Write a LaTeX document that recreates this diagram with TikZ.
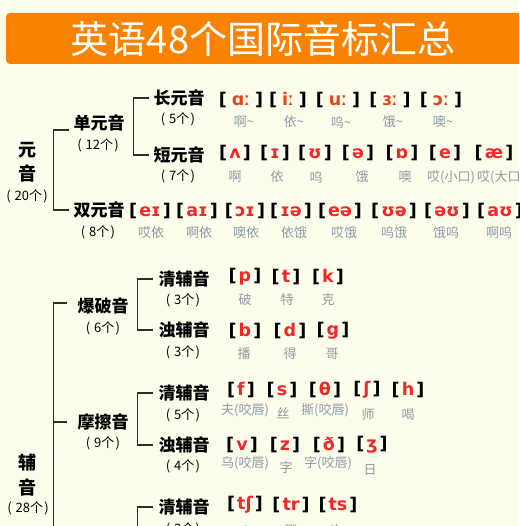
\documentclass[tikz,border=0pt]{standalone}
\usepackage{fontspec}
\usepackage{xcolor}
\usepackage{tikz}
\usetikzlibrary{positioning}
\setmainfont{Noto Sans CJK SC}
\newfontfamily\ipa{DejaVu Sans}
\definecolor{fondo}{HTML}{FDFDEC}
\definecolor{naranja}{HTML}{F98300}
\definecolor{rojo}{HTML}{F0282A}
\definecolor{rojizo}{HTML}{E4461C}
\definecolor{gris}{HTML}{8C9CA6}
\definecolor{linea}{HTML}{2E2E2E}
\newcommand{\fon}[2][rojo]{{\ipa\bfseries[\hspace{0.12em}\textcolor{#1}{#2}\hspace{0.12em}]}}
\newcommand{\cuenta}[1]{(\hspace{0.3em}#1个\hspace{0.1em})}

\begin{document}
\begin{tikzpicture}[x=1pt, y=-1pt,
      cat/.style={font=\fontsize{17}{20}\selectfont\bfseries, inner sep=1pt},
      num/.style={font=\fontsize{13}{15}\selectfont, inner sep=1pt},
      fon/.style={font=\fontsize{17.5}{19}\selectfont, inner sep=1pt},
      lab/.style={text=gris, font=\fontsize{13}{15}\selectfont, inner sep=1pt},
      rama/.style={draw=linea, line width=1.6pt}]
    \path[use as bounding box, fill=fondo] (0,0) rectangle (519,526);
    \clip (0,0) rectangle (519,526);
    \fill[naranja, rounded corners=4pt] (6,13) rectangle (540,64);
    \node[text=white, font=\fontsize{38}{42}\selectfont] (titulo) at (263,39) {英语48个国际音标汇总};
    \coordinate (fin1) at (53.5,560);
    \coordinate (fin2) at (137.5,560);
    % vocales
    \node[cat, font=\fontsize{18}{24}\selectfont\bfseries, align=center] (yuan) at (27,162) {元\\音};
    \node[num] (yuann) at (27,196) {\cuenta{20}};
    \node[cat] (dan) at (99,123) {单元音};
    \node[num] (dann) at (98,145) {\cuenta{12}};
    \node[cat] (chang) at (179,98) {长元音};
    \node[num] (changn) at (178,119) {\cuenta{5}};
    \node[cat] (duan) at (179,155) {短元音};
    \node[num] (duann) at (178,176) {\cuenta{7}};
    \node[cat] (shuang) at (99,210) {双元音};
    \node[num] (shuangn) at (98,232) {\cuenta{8}};
    \draw[rama] ([shift={(-3,7)}]dan.west) -- ++(-16,0) |- ([xshift=-3]shuang.west);
    \draw[rama] ([xshift=-3]chang.west) -- ++(-16,0) |- ([xshift=-3]duan.west);
    \node[fon] (c1) at (241,100) {\fon[rojizo]{\,ɑː\,}};
    \node[fon] (c2) at (288,100) {\fon[rojizo]{\,iː\,}};
    \node[fon] (c3) at (338,100) {\fon[rojizo]{\,uː\,}};
    \node[fon] (c4) at (390,100) {\fon[rojizo]{\,ɜː\,}};
    \node[fon] (c5) at (441,100) {\fon[rojizo]{\,ɔː\,}};
    \node[lab] (c1l) at (244,122) {啊\textasciitilde};
    \node[lab] (c2l) at (294,122) {依\textasciitilde};
    \node[lab] (c3l) at (341,122) {呜\textasciitilde};
    \node[lab] (c4l) at (393,122) {饿\textasciitilde};
    \node[lab] (c5l) at (443,122) {噢\textasciitilde};
    \node[fon] (d1) at (235,153) {\fon{ʌ}};
    \node[fon] (d2) at (275,153) {\fon{ɪ}};
    \node[fon] (d3) at (315,153) {\fon{ʊ}};
    \node[fon] (d4) at (358,153) {\fon{ə}};
    \node[fon] (d5) at (402,153) {\fon{ɒ}};
    \node[fon] (d6) at (445,153) {\fon{e}};
    \node[fon] (d7) at (494,153) {\fon{æ}};
    \node[lab] (d1l) at (235,177) {啊};
    \node[lab] (d2l) at (277,177) {依};
    \node[lab] (d3l) at (316,177) {呜};
    \node[lab] (d4l) at (362,177) {饿};
    \node[lab] (d5l) at (405,177) {噢};
    \node[lab] (d6l) at (451,177) {哎(小口)};
    \node[lab, anchor=west] (d7l) at (476,177) {哎(大口)};
    \node[fon] (s1) at (150,211) {\fon{eɪ}};
    \node[fon] (s2) at (197,211) {\fon{aɪ}};
    \node[fon] (s3) at (245,211) {\fon{ɔɪ}};
    \node[fon] (s4) at (291,211) {\fon{ɪə}};
    \node[fon] (s5) at (340,211) {\fon{eə}};
    \node[fon] (s6) at (394,211) {\fon{ʊə}};
    \node[fon] (s7) at (447,211) {\fon{əʊ}};
    \node[fon] (s8) at (500,211) {\fon{aʊ}};
    \node[lab] (s1l) at (151,233) {哎依};
    \node[lab] (s2l) at (199,233) {啊依};
    \node[lab] (s3l) at (246,233) {噢依};
    \node[lab] (s4l) at (294,233) {依饿};
    \node[lab] (s5l) at (344,233) {哎饿};
    \node[lab] (s6l) at (394,233) {呜饿};
    \node[lab] (s7l) at (446,233) {饿呜};
    \node[lab] (s8l) at (499,233) {啊呜};
    % consonantes
    \node[cat, font=\fontsize{18}{25}\selectfont\bfseries, align=center] (fu) at (27,475) {辅\\音};
    \node[num] (fun) at (28,508) {\cuenta{28}};
    \node[cat] (bao) at (103,306) {爆破音};
    \node[num] (baon) at (103,328) {\cuenta{6}};
    \node[cat] (moca) at (103,422) {摩擦音};
    \node[num] (mocan) at (103,443) {\cuenta{9}};
    \node[cat] (bq) at (184,279) {清辅音};
    \node[num] (bqn) at (183,300) {\cuenta{3}};
    \node[cat] (bz) at (184,330) {浊辅音};
    \node[num] (bzn) at (183,352) {\cuenta{3}};
    \node[cat] (mq) at (184,393) {清辅音};
    \node[num] (mqn) at (183,415) {\cuenta{5}};
    \node[cat] (mz) at (184,445) {浊辅音};
    \node[num] (mzn) at (183,466) {\cuenta{4}};
    \node[cat] (cq) at (184,507) {清辅音};
    \node[num] (cqn) at (183,529) {\cuenta{3}};
    \draw[rama] ([shift={(-9,-3)}]bao.west) -| (fin1);
    \draw[rama] ([xshift=-9]moca.west) -- (moca.west -| fin1);
    \draw[rama] ([xshift=-4]bq.west) -- ++(-16,0) |- ([xshift=-4]bz.west);
    \draw[rama] ([xshift=-4]mq.west) -- ++(-16,0) |- ([xshift=-4]mz.west);
    \draw[rama] ([xshift=-4]cq.west) -| (fin2);
    \node[fon] (p1) at (245,277) {\fon{p}};
    \node[fon] (p2) at (286,277) {\fon{t}};
    \node[fon] (p3) at (328,277) {\fon{k}};
    \node[lab] (p1l) at (245,300) {破};
    \node[lab] (p2l) at (287,300) {特};
    \node[lab] (p3l) at (328,300) {克};
    \node[fon] (b1) at (245,331) {\fon{b}};
    \node[fon] (b2) at (290,331) {\fon{d}};
    \node[fon] (b3) at (333,331) {\fon{g}};
    \node[lab] (b1l) at (244,354) {播};
    \node[lab] (b2l) at (290,354) {得};
    \node[lab] (b3l) at (332,354) {哥};
    \node[fon] (f1) at (241,390) {\fon{f}};
    \node[fon] (f2) at (282,390) {\fon{s}};
    \node[fon] (f3) at (325,390) {\fon{θ}};
    \node[fon] (f4) at (367,390) {\fon{ʃ}};
    \node[fon] (f5) at (408,390) {\fon{h}};
    \node[lab] (f1l) at (245,410) {夫(咬唇)};
    \node[lab] (f2l) at (283,413) {丝};
    \node[lab] (f3l) at (325,410) {撕(咬唇)};
    \node[lab] (f4l) at (368,415) {师};
    \node[lab] (f5l) at (408,415) {喝};
    \node[fon] (v1) at (242,445) {\fon{v}};
    \node[fon] (v2) at (285,445) {\fon{z}};
    \node[fon] (v3) at (329,445) {\fon{ð}};
    \node[fon] (v4) at (372,445) {\fon{ʒ}};
    \node[lab] (v1l) at (245,463) {乌(咬唇)};
    \node[lab] (v2l) at (286,468) {字};
    \node[lab] (v3l) at (328,463) {字(咬唇)};
    \node[lab] (v4l) at (370,470) {日};
    \node[fon] (t1) at (245,505) {\fon{tʃ}};
    \node[fon] (t2) at (291,505) {\fon{tr}};
    \node[fon] (t3) at (338,505) {\fon{ts}};
    \node[lab] (t1l) at (245,531) {吃};
    \node[lab] (t2l) at (291,531) {戳};
    \node[lab] (t3l) at (337,531) {次};
\end{tikzpicture}
\end{document}
